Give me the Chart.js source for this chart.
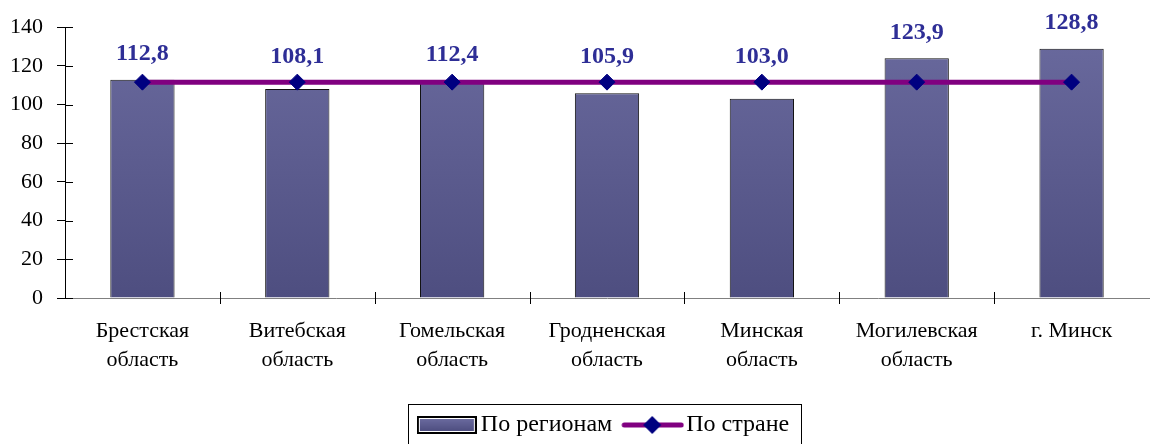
<!DOCTYPE html>
<html>
<head>
<meta charset="utf-8">
<script src="https://cdn.jsdelivr.net/npm/chart.js@4/dist/chart.umd.min.js"></script>
<style>
  html, body { margin: 0; padding: 0; background: #fff; }
  #wrap { width: 1158px; height: 444px; }
</style>
</head>
<body>
<div id="wrap"><canvas id="chartCanvas" width="1158" height="444"></canvas></div>
<script>
// data
const categories = [
  ['Брестская', 'область'],
  ['Витебская', 'область'],
  ['Гомельская', 'область'],
  ['Гродненская', 'область'],
  ['Минская', 'область'],
  ['Могилевская', 'область'],
  ['г. Минск', '']
];
const regionValues = [112.8, 108.1, 112.4, 105.9, 103.0, 123.9, 128.8];
const countryValues = [111.6, 111.6, 111.6, 111.6, 111.6, 111.6, 111.6];
const seriesNames = ['По регионам', 'По стране'];

const serif = "Liberation Serif";
Chart.defaults.font.family = serif;
Chart.defaults.color = '#000';

// gradient for bars
function barFill(context)
{
  let chart = context.chart;
  let area = chart.chartArea;
  if(!area) return '#606090';
  let g = chart.ctx.createLinearGradient(0, area.top, 0, area.bottom);
  g.addColorStop(0, '#6a6a9e');
  g.addColorStop(1, '#4e4e80');
  return g;
}

// legend swatches
function makeBarSwatch()
{
  let c = document.createElement('canvas');
  c.width = 60; c.height = 18;
  let x = c.getContext('2d');
  x.fillStyle = '#000';
  x.fillRect(0, 0, 60, 18);
  x.fillStyle = '#fff';
  x.fillRect(2, 2, 56, 14);
  let g = x.createLinearGradient(0, 3, 0, 15);
  g.addColorStop(0, '#6a6a9e');
  g.addColorStop(1, '#4e4e80');
  x.fillStyle = g;
  x.fillRect(3, 3, 54, 12);
  return c;
}
function makeLineSwatch()
{
  let c = document.createElement('canvas');
  c.width = 64; c.height = 20;
  let x = c.getContext('2d');
  x.strokeStyle = '#800080';
  x.lineWidth = 5;
  x.lineCap = 'round';
  x.beginPath(); x.moveTo(4, 10); x.lineTo(61, 10); x.stroke();
  x.fillStyle = '#000080';
  x.beginPath(); x.moveTo(32, 1); x.lineTo(41, 10); x.lineTo(32, 19); x.lineTo(23, 10); x.closePath(); x.fill();
  return c;
}
const swatches = [makeBarSwatch(), makeLineSwatch()];

// value labels above bars (kept above the country line)
const barLabels = {
  id: 'barLabels',
  afterDatasetsDraw(chart)
  {
    let ctx = chart.ctx;
    let bars = chart.getDatasetMeta(1).data;
    let points = chart.getDatasetMeta(0).data;
    ctx.save();
    ctx.font = "bold 24px " + serif;
    ctx.fillStyle = '#2e2e96';
    ctx.textAlign = 'center';
    ctx.textBaseline = 'middle';
    for(let i = 0; i < bars.length; i++)
    {
      let y = Math.min(bars[i].y - 26, points[i].y - 25);
      ctx.fillText(regionValues[i].toFixed(1).replace('.', ','), bars[i].x, y);
    }
    ctx.restore();
  }
};

// inner half of the cross tick marks
const crossTicks = {
  id: 'crossTicks',
  afterDraw(chart)
  {
    let ctx = chart.ctx;
    let y = chart.scales.y;
    let x = chart.scales.x;
    ctx.save();
    ctx.lineWidth = 1;
    ctx.strokeStyle = '#000';
    ctx.beginPath();
    for(let i = 0; i < y.ticks.length; i++)
    {
      let py = Math.round(y.getPixelForValue(y.ticks[i].value)) + 0.5;
      ctx.moveTo(y.right, py);
      ctx.lineTo(y.right + 8, py);
    }
    ctx.stroke();
    ctx.beginPath();
    for(let i = 1; i < categories.length; i++)
    {
      let px = Math.round((x.getPixelForValue(i - 1) + x.getPixelForValue(i)) / 2) + 0.5;
      ctx.moveTo(px, x.top - 6);
      ctx.lineTo(px, x.top + 6);
    }
    ctx.stroke();
    ctx.restore();
  }
};

// center legend under the plot area and frame it
const legendFrame = {
  id: 'legendFrame',
  afterLayout(chart)
  {
    let l = chart.legend;
    let a = chart.chartArea;
    let shift = Math.round((a.left + a.right) / 2 - (l.left + l.right) / 2);
    l.left += shift;
    l.right += shift;
  },
  afterDraw(chart)
  {
    let l = chart.legend;
    if(!l || !l.legendHitBoxes) return;
    let boxes = l.legendHitBoxes;
    let left = boxes[0].left - 17;
    let last = boxes[boxes.length - 1];
    let right = last.left + last.width + 12;
    let cy = boxes[0].top + boxes[0].height / 2;
    let ctx = chart.ctx;
    ctx.save();
    ctx.strokeStyle = '#000';
    ctx.lineWidth = 1;
    ctx.strokeRect(Math.round(left) + 0.5, Math.round(cy - 21) + 0.5, Math.round(right - left), 40);
    ctx.restore();
  }
};

new Chart(document.getElementById('chartCanvas'), {
  data: {
    labels: categories,
    datasets: [
      {
        type: 'line',
        label: seriesNames[1],
        data: countryValues,
        borderColor: '#800080',
        borderWidth: 5,
        pointStyle: 'rectRot',
        pointRadius: 8,
        pointBackgroundColor: '#000080',
        pointBorderColor: '#000080',
        pointBorderWidth: 1,
        order: 0
      },
      {
        type: 'bar',
        label: seriesNames[0],
        data: regionValues,
        backgroundColor: barFill,
        borderColor: '#111',
        borderWidth: 1,
        barPercentage: 0.415,
        categoryPercentage: 1,
        order: 1
      }
    ]
  },
  options: {
    responsive: false,
    animation: false,
    layout: { padding: { top: 27, right: 0, left: 0, bottom: -3 } },
    plugins: {
      tooltip: { enabled: false },
      legend: {
        position: 'bottom',
        labels: {
          usePointStyle: true,
          pointStyleWidth: 44,
          boxHeight: 18,
          padding: 18,
          color: '#000',
          font: { family: serif, size: 24 },
          generateLabels(chart)
          {
            return [1, 0].map((di, k) => ({
              text: chart.data.datasets[di].label,
              pointStyle: swatches[k],
              datasetIndex: di,
              hidden: false,
              lineWidth: 0,
              fontColor: '#000'
            }));
          }
        }
      }
    },
    scales: {
      x: {
        offset: true,
        grid: { display: false, drawTicks: false },
        border: { color: '#808080', width: 1 },
        ticks: {
          color: '#000',
          padding: 19,
          maxRotation: 0,
          autoSkip: false,
          font: { family: serif, size: 22, lineHeight: 1.3 }
        },
        afterFit(scale)
        {
          scale.height = 97;
          scale.paddingRight = 0;
        }
      },
      y: {
        min: 0,
        max: 140,
        grid: { display: true, drawOnChartArea: false, drawTicks: true, tickLength: 8, color: '#000' },
        border: { color: '#000', width: 1 },
        ticks: {
          stepSize: 20,
          color: '#000',
          padding: 14,
          font: { family: serif, size: 22 }
        },
        afterFit(scale)
        {
          scale.width = 65;
        }
      }
    }
  },
  plugins: [barLabels, crossTicks, legendFrame]
});
</script>
</body>
</html>
